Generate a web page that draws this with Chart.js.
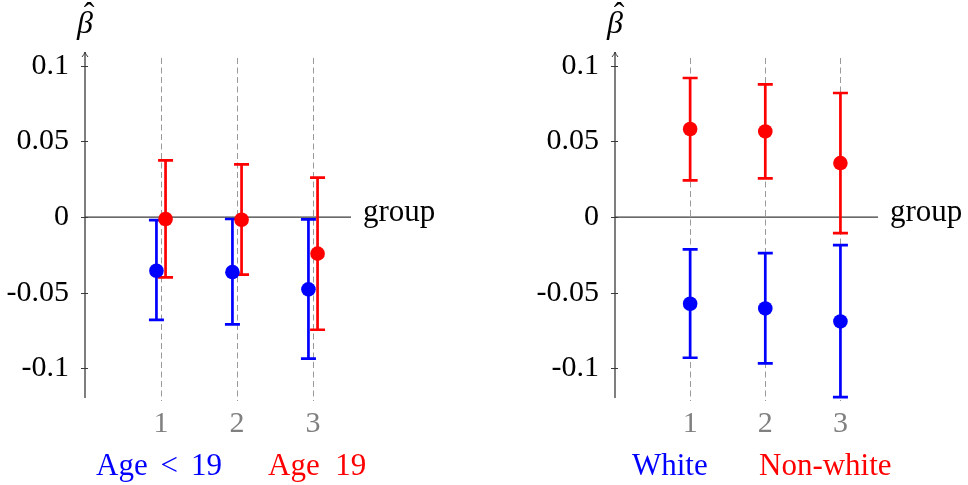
<!DOCTYPE html>
<html><head><meta charset="utf-8">
<script src="https://cdn.jsdelivr.net/npm/chart.js@4"></script>
<style>
html,body{margin:0;padding:0;background:#fff;}
#wrap{position:relative;width:968px;height:485px;overflow:hidden;background:#fff;}
.panel{position:absolute;top:0;height:485px;}
</style></head><body>
<div id="wrap">
<div class="panel" style="left:0;width:440px"><canvas id="c1"></canvas></div>
<div class="panel" style="left:530px;width:438px"><canvas id="c2"></canvas></div>
</div>
<script>
// ---- data ----
const groups = [1, 2, 3];
const groupTickLabels = ['1', '2', '3'];
const yTickValues = [0.1, 0.05, 0, -0.05, -0.1];
const yTickLabels = ['0.1', '0.05', '0', '-0.05', '-0.1'];

// Left panel: Age < 19 (blue) / Age 19 (red)
const ageYoungMean = [-0.0355, -0.0364, -0.0478];
const ageYoungLow  = [-0.0680, -0.0710, -0.0936];
const ageYoungHigh = [-0.0020, -0.0013, -0.0015];
const ageOldMean   = [-0.0013, -0.0018, -0.0242];
const ageOldLow    = [-0.0399, -0.0381, -0.0745];
const ageOldHigh   = [ 0.0375,  0.0348,  0.0260];

// Right panel: White (blue) / Non-white (red)
const whiteMean    = [-0.0573, -0.0604, -0.0690];
const whiteLow     = [-0.0930, -0.0967, -0.1190];
const whiteHigh    = [-0.0214, -0.0238, -0.0185];
const nonWhiteMean = [ 0.0582,  0.0566,  0.0357];
const nonWhiteLow  = [ 0.0243,  0.0256, -0.0106];
const nonWhiteHigh = [ 0.0919,  0.0877,  0.0820];

const legendLeft  = ['Age\u2004\u200A<\u2004\u200A19', 'Age\u200219'];
const legendRight = ['White', 'Non-white'];
const yTitle = '\u03B2';
const xTitle = 'group';

// ---- style ----
const FONT = "'Liberation Serif', 'Times New Roman', serif";
const BLUE = '#0000ff', RED = '#ff0000', AXIS = '#3a3a3a', GRID = '#9a9a9a';

const decor = {
  id: 'decor',
  beforeDatasetsDraw(chart) {
    const ctx = chart.ctx, xs = chart.scales.x, ys = chart.scales.y;
    const o = chart.options.plugins.decor;
    const ax = xs.getPixelForValue(0), xEnd = xs.getPixelForValue(3.5);
    const y0 = ys.getPixelForValue(0);
    ctx.save();
    // dashed group lines
    ctx.strokeStyle = GRID; ctx.lineWidth = 1; ctx.setLineDash([6, 3.5]);
    groups.forEach(g => {
      const x = Math.round(xs.getPixelForValue(g)) + 0.5;
      ctx.beginPath(); ctx.moveTo(x, chart.chartArea.top + 6); ctx.lineTo(x, chart.chartArea.bottom + 3); ctx.stroke();
    });
    ctx.setLineDash([]);
    // y axis with arrow
    ctx.strokeStyle = AXIS; ctx.lineWidth = 1.3;
    ctx.beginPath(); ctx.moveTo(ax, chart.chartArea.bottom); ctx.lineTo(ax, chart.chartArea.top); ctx.stroke();
    ctx.lineWidth = 1;
    ctx.beginPath();
    ctx.moveTo(ax - 3, chart.chartArea.top + 5); ctx.quadraticCurveTo(ax - 0.5, chart.chartArea.top + 2, ax, chart.chartArea.top);
    ctx.moveTo(ax + 3, chart.chartArea.top + 5); ctx.quadraticCurveTo(ax + 0.5, chart.chartArea.top + 2, ax, chart.chartArea.top);
    ctx.stroke();
    // y tick marks
    yTickValues.forEach(v => {
      const y = Math.round(ys.getPixelForValue(v)) + 0.5;
      ctx.beginPath(); ctx.moveTo(ax - 4, y); ctx.lineTo(ax + 3, y); ctx.stroke();
    });
    // zero line
    ctx.lineWidth = 1.3;
    ctx.beginPath(); ctx.moveTo(ax, y0); ctx.lineTo(xEnd, y0); ctx.stroke();
    // error bars
    chart.data.datasets.forEach(ds => {
      ctx.strokeStyle = ds.backgroundColor; ctx.lineWidth = 2.7;
      ds.data.forEach((p, i) => {
        const x = xs.getPixelForValue(p.x);
        const yl = ys.getPixelForValue(ds.errLow[i]), yh = ys.getPixelForValue(ds.errHigh[i]);
        ctx.beginPath();
        ctx.moveTo(x, yl); ctx.lineTo(x, yh);
        ctx.moveTo(x - 7.5, yl); ctx.lineTo(x + 7.5, yl);
        ctx.moveTo(x - 7.5, yh); ctx.lineTo(x + 7.5, yh);
        ctx.stroke();
      });
    });
    // texts
    ctx.fillStyle = '#000';
    ctx.font = '31px ' + FONT; ctx.textBaseline = 'alphabetic'; ctx.textAlign = 'left';
    ctx.fillText(xTitle, xEnd + 12, y0 + 4);
    ctx.font = 'italic 32px ' + FONT; ctx.textAlign = 'center';
    ctx.fillText(yTitle, ax, 33);
    ctx.font = '32px ' + FONT;
    ctx.fillText('\u02C6', ax + 4, 24);
    ctx.font = '31px ' + FONT;
    ctx.textAlign = 'left';
    o.legend.forEach((t, i) => {
      ctx.fillStyle = i === 0 ? BLUE : RED;
      ctx.fillText(t, o.legendX[i], 475);
    });
    ctx.restore();
  }
};

function makePanel(id, blue, red, dodge, rightPad, legend, legendX) {
  const mk = (mean, sgn) => mean.map((v, i) => ({ x: groups[i] + sgn * dodge, y: v }));
  new Chart(document.getElementById(id), {
    type: 'scatter',
    data: {
      datasets: [
        { data: mk(blue[0], -1), errLow: blue[1], errHigh: blue[2], backgroundColor: BLUE, borderColor: BLUE, pointRadius: 7.3, pointBorderWidth: 0, pointHoverRadius: 7.3 },
        { data: mk(red[0], 1), errLow: red[1], errHigh: red[2], backgroundColor: RED, borderColor: RED, pointRadius: 7.3, pointBorderWidth: 0, pointHoverRadius: 7.3 }
      ]
    },
    options: {
      responsive: true, maintainAspectRatio: false, animation: false, devicePixelRatio: 1,
      layout: { padding: { top: 52, right: rightPad, bottom: 0, left: 0 } },
      plugins: { legend: { display: false }, tooltip: { enabled: false }, decor: { legend, legendX } },
      scales: {
        x: {
          type: 'linear', min: 0, max: 3.5, position: 'bottom',
          afterBuildTicks: s => { s.ticks = groups.map(v => ({ value: v })); },
          afterFit: s => { s.height = 87; },
          ticks: { color: '#808080', font: { family: FONT, size: 30 }, padding: 8, maxRotation: 0, autoSkip: false,
                   callback: (v, i) => groupTickLabels[i] },
          grid: { display: false, drawTicks: false }, border: { display: false }
        },
        y: {
          type: 'linear', min: -0.1196, max: 0.1091,
          afterBuildTicks: s => { s.ticks = yTickValues.map(v => ({ value: v })); },
          afterFit: s => { s.width = 85; },
          ticks: { color: '#000', font: { family: FONT, size: 30 }, padding: 16, autoSkip: false,
                   callback: (v, i) => yTickLabels[i] },
          grid: { display: false, drawTicks: false }, border: { display: false }
        }
      }
    },
    plugins: [decor]
  });
}

makePanel('c1', [ageYoungMean, ageYoungLow, ageYoungHigh], [ageOldMean, ageOldLow, ageOldHigh], 0.06, 89, legendLeft, [96, 268]);
makePanel('c2', [whiteMean, whiteLow, whiteHigh], [nonWhiteMean, nonWhiteLow, nonWhiteHigh], 0, 90, legendRight, [102, 229]);
</script>
</body></html>
